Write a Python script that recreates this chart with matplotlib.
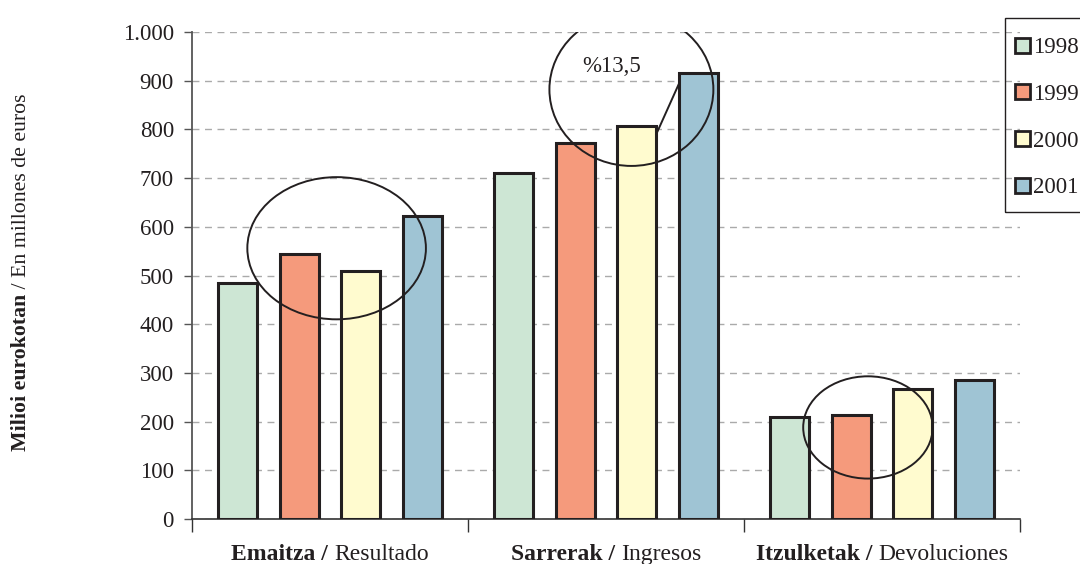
import matplotlib
matplotlib.use("Agg")
import matplotlib.pyplot as plt
from matplotlib.patches import Ellipse, Rectangle
from matplotlib.offsetbox import TextArea, HPacker, AnnotationBbox
import numpy as np

# ---- data ----
groups_bold = ["Emaitza /", "Sarrerak /", "Itzulketak /"]
groups_normal = ["Resultado", "Ingresos", "Devoluciones"]
years = ["1998", "1999", "2000", "2001"]
v1998 = [485, 710, 209]
v1999 = [545, 773, 214]
v2000 = [509, 807, 266]
v2001 = [622, 916, 285]
yticks = [0, 100, 200, 300, 400, 500, 600, 700, 800, 900, 1000]
ytick_labels = ["0", "100", "200", "300", "400", "500", "600", "700", "800", "900", "1.000"]
annot_text = "%13,5"

colors = ["#CDE6D4", "#F59A7C", "#FFFBCF", "#9FC4D4"]
edge = "#231F20"
FONT = "Liberation Serif"
FS = 16.5
FS_GRP = 17
FS_YL = 15.7

plt.rcParams['font.family'] = [FONT, 'DejaVu Serif']

fig = plt.figure(figsize=(10.8, 5.64), dpi=100)
ax = fig.add_axes([192/1080, 45/564, 828/1080, 487/564])

series = [v1998, v1999, v2000, v2001]
x = np.arange(len(groups_bold))
step = 0.223
width = 0.141
bars = []
for i, (vals, c, lab) in enumerate(zip(series, colors, years)):
    b = ax.bar(x + (i - 1.5) * step, vals, width, color=c, edgecolor=edge,
               linewidth=2.2, label=lab, zorder=3)
    bars.append(b)

ax.set_xlim(-0.5, 2.5)
ax.set_ylim(0, 1000)
ax.set_yticks(yticks)
ax.set_yticklabels(ytick_labels, fontsize=FS, family=FONT, color='#231F20')
ax.set_xticks([-0.5, 0.5, 1.5, 2.5])
ax.set_xticklabels([])
ax.tick_params(axis='x', direction='out', length=9, width=1, color='#333333')
ax.tick_params(axis='y', direction='out', length=6, width=1, color='#555555', pad=7)

for s in ['top', 'right']:
    ax.spines[s].set_visible(False)
ax.spines['left'].set_color('#555555')
ax.spines['left'].set_linewidth(1.3)
ax.spines['bottom'].set_color('#333333')
ax.spines['bottom'].set_linewidth(1.2)

ax.yaxis.grid(True, linestyle=(0, (5, 4)), color='#AAAAAA', linewidth=1.0, zorder=0)
ax.set_axisbelow(True)

# group labels with mixed weights
for i, (gb, gn) in enumerate(zip(groups_bold, groups_normal)):
    t1 = TextArea(gb, textprops=dict(fontsize=FS_GRP, weight='bold', family=FONT, color='#231F20'))
    t2 = TextArea(gn, textprops=dict(fontsize=FS_GRP, family=FONT, color='#231F20'))
    pack = HPacker(children=[t1, t2], sep=4, pad=0, align='baseline')
    ab = AnnotationBbox(pack, (x[i], -0.072), xycoords=('data', 'axes fraction'),
                        box_alignment=(0.5, 0.5), frameon=False, annotation_clip=False)
    ax.add_artist(ab)

# annotation ellipses
ell_specs = [
    (x[0] + 0.024, 556, 0.647, 292),
    (x[1] + 0.092, 882, 0.594, 314),
    (x[2] - 0.051, 188, 0.469, 210),
]
for cx, cy, w, h in ell_specs:
    ax.add_patch(Ellipse((cx, cy), w, h, fill=False, edgecolor=edge, linewidth=1.4, zorder=5))

# connector line in Sarrerak group
b2000 = bars[2][1]
b2001 = bars[3][1]
ax.plot([b2000.get_x() + b2000.get_width(), b2001.get_x() + 0.002],
        [v2000[1] - 17, v2001[1] - 20], color=edge, linewidth=1.4, zorder=6)
ax.text(x[1] + 0.022, 930, annot_text, fontsize=FS, family=FONT, ha='center', va='center',
        color='#231F20', zorder=7)

# legend (frame drawn separately)
fig.patches.append(Rectangle((1005/1080, 1 - 212/564), 90/1080, 194/564,
                             transform=fig.transFigure, fill=False,
                             edgecolor='#231F20', linewidth=1.0))
leg = fig.legend(loc='upper left', bbox_to_anchor=(1005/1080, 1 - 27/564),
                 frameon=False,
                 prop=dict(family=FONT, size=FS), handlelength=0.62, handleheight=0.62,
                 handletextpad=0.15, labelspacing=1.12, borderpad=0.45, borderaxespad=0)
for t in leg.get_texts():
    t.set_color('#231F20')
for h in leg.legend_handles:
    h.set_linewidth(2.0)

# y label with mixed weights (rotated)
fig.canvas.draw()
r = fig.canvas.get_renderer()
YLX = 26/1080
yl1 = fig.text(YLX, 0, "Milioi eurokotan", rotation=90, rotation_mode='anchor',
               ha='left', va='baseline', fontsize=FS_YL, weight='bold', family=FONT, color='#231F20')
yl2 = fig.text(YLX, 0, " / En millones de euros", rotation=90, rotation_mode='anchor',
               ha='left', va='baseline', fontsize=FS_YL, family=FONT, color='#231F20')
fig.canvas.draw()
h1 = yl1.get_window_extent(r).height
h2 = yl2.get_window_extent(r).height
total = h1 + h2
center_px = 564 - 272
y0 = center_px - total / 2
yl1.set_position((YLX, y0 / 564))
yl2.set_position((YLX, (y0 + h1) / 564))

fig.savefig("out.png", dpi=100)
